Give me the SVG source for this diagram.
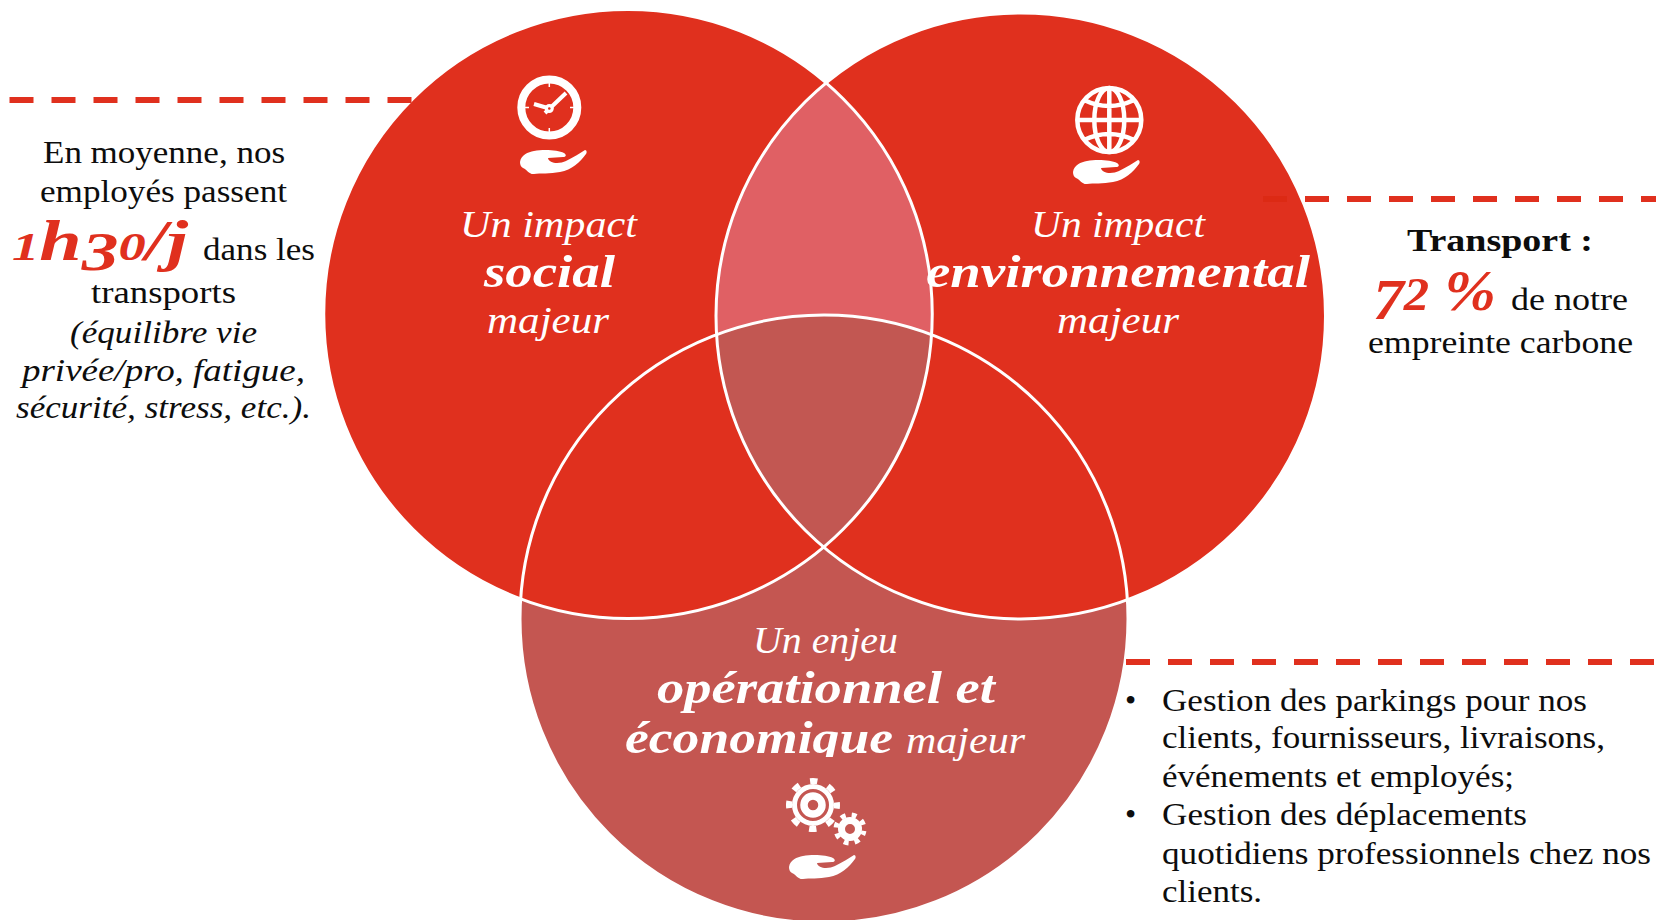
<svg xmlns="http://www.w3.org/2000/svg" width="1656" height="920" viewBox="0 0 1656 920">
<style>
text{font-family:"Liberation Serif",serif;font-size:32px;fill:#0d0d0d}
.i{font-style:italic}
.w{fill:#fff;font-size:37px;font-style:italic}
.wb{fill:#fff;font-size:47px;font-weight:bold;font-style:italic}
.r{fill:#e0301e;font-weight:bold;font-style:italic;font-size:56px}
.d{stroke:#e0301e;stroke-width:6;stroke-dasharray:24 18;fill:none}
.ring{fill:none;stroke:#fff;stroke-width:3}
</style>
<defs>
<clipPath id="cl"><ellipse cx="628" cy="314" rx="304.250" ry="304.500"/></clipPath>
<clipPath id="cr"><ellipse cx="1020.750" cy="316" rx="304.750" ry="303"/></clipPath>
<clipPath id="cb"><rect x="600" y="720" width="450" height="37"/></clipPath>
<path id="hand" fill="#fff" d="M0 12C1 5 8 2 14 1C24-1 38 0 44 3C47 5 46 7 43 7L28 8C29 14 40 14 46 11C54 7 60 3 65 0C67 0 67 3 66 4C60 12 52 20 40 22C30 24 20 23 14 24C10 25 6 19 3 18C1 17 0 15 0 12Z"/>
</defs>
<g id="node-social"><ellipse cx="628" cy="314" rx="304.250" ry="304.500" fill="#e0301e"/></g>
<g id="node-environnement"><ellipse cx="1020.750" cy="316" rx="304.750" ry="303" fill="#e0301e"/></g>
<g id="node-operationnel"><circle cx="824" cy="619" r="304" fill="#c45651"/></g>
<g id="overlaps">
<g clip-path="url(#cl)"><ellipse cx="1020.750" cy="316" rx="304.750" ry="303" fill="#e06064"/></g>
<g clip-path="url(#cl)"><circle cx="824" cy="619" r="304" fill="#e0301e"/></g>
<g clip-path="url(#cr)"><circle cx="824" cy="619" r="304" fill="#e0301e"/></g>
<g clip-path="url(#cl)"><g clip-path="url(#cr)"><circle cx="824" cy="619" r="304" fill="#c25752"/></g></g>
<ellipse class="ring" cx="628" cy="314" rx="304.250" ry="304.500"/>
<ellipse class="ring" cx="1020.750" cy="316" rx="304.750" ry="303"/>
<circle class="ring" cx="824" cy="619" r="304"/>
</g>
<g id="connectors">
<path class="d" d="M9.500 100H412"/>
<path class="d" style="stroke:#dc2a14" d="M1263 199H1287"/>
<path class="d" d="M1305 199H1656"/>
<path class="d" d="M1126 662H1656"/>
</g>
<g id="icon-clock">
<circle cx="549.300" cy="107.500" r="28" fill="none" stroke="#fff" stroke-width="8"/>
<path stroke="#fff" stroke-width="1.500" d="M549.300 83v4M549.300 128v4M525 107.500h4M570 107.500h4"/>
<path stroke="#fff" stroke-width="4" fill="none" d="M534 104L551 109M545 113L566 93"/>
<circle cx="549.300" cy="108.500" r="4.500" fill="#fff"/>
<circle cx="549.300" cy="108.500" r="1.300" fill="#e0301e"/>
<use href="#hand" x="520" y="150"/>
</g>
<g id="icon-globe" fill="none" stroke="#fff" stroke-width="4.500">
<circle cx="1109.300" cy="120" r="32"/>
<ellipse cx="1109.300" cy="120" rx="15" ry="32"/>
<path d="M1109.300 88V152M1077 120H1141M1084 100Q1109 112 1134 100M1084 140Q1109 128 1134 140"/>
<use href="#hand" x="1073" y="160" stroke="none"/>
</g>
<g id="icon-gears" fill="none" stroke="#fff">
<circle cx="813" cy="805" r="18.500" stroke-width="5"/>
<circle cx="813" cy="805" r="9" stroke-width="7.500"/>
<circle cx="813" cy="805" r="24" stroke-width="6" stroke-dasharray="7.500 11.350" stroke-dashoffset="3.750"/>
<circle cx="850" cy="829" r="8.500" stroke-width="7"/>
<circle cx="850" cy="829" r="14" stroke-width="5" stroke-dasharray="5 6" stroke-dashoffset="2.500" transform="rotate(15 850 829)"/>
<use href="#hand" x="789" y="855" stroke="none"/>
</g>
<g id="label-social" text-anchor="middle">
<text class="w" x="548.500" y="237" lengthAdjust="spacingAndGlyphs" textLength="177">Un impact</text>
<text class="wb" x="549.500" y="287" lengthAdjust="spacingAndGlyphs" textLength="131">social</text>
<text class="w" x="548" y="333" lengthAdjust="spacingAndGlyphs" textLength="122">majeur</text>
</g>
<g id="label-environnement" text-anchor="middle">
<text class="w" x="1118" y="237" lengthAdjust="spacingAndGlyphs" textLength="174">Un impact</text>
<text class="wb" x="1118" y="287" lengthAdjust="spacingAndGlyphs" textLength="384">environnemental</text>
<text class="w" x="1118" y="333" lengthAdjust="spacingAndGlyphs" textLength="122">majeur</text>
</g>
<g id="label-operationnel">
<text class="w" x="753" y="653" lengthAdjust="spacingAndGlyphs" textLength="145">Un enjeu</text>
<text class="wb" x="657" y="703" lengthAdjust="spacingAndGlyphs" textLength="338">opérationnel et</text>
<text class="wb" x="625" y="753" lengthAdjust="spacingAndGlyphs" textLength="268" clip-path="url(#cb)">économique</text>
<text class="w" x="906" y="753" lengthAdjust="spacingAndGlyphs" textLength="119">majeur</text>
</g>
<g id="note-left">
<text x="43" y="163" lengthAdjust="spacingAndGlyphs" textLength="242">En moyenne, nos</text>
<text x="40" y="202" lengthAdjust="spacingAndGlyphs" textLength="247">employés passent</text>
<text class="r" x="12" y="260" lengthAdjust="spacingAndGlyphs" textLength="176"><tspan font-size="40">1</tspan>h<tspan font-size="54" dy="10">3</tspan><tspan font-size="40" dy="-10">0</tspan>/j</text>
<text x="203" y="260" lengthAdjust="spacingAndGlyphs" textLength="112">dans les</text>
<text x="91" y="303" lengthAdjust="spacingAndGlyphs" textLength="145">transports</text>
<text class="i" x="70" y="343" lengthAdjust="spacingAndGlyphs" textLength="187">(équilibre vie</text>
<text class="i" x="22" y="381" lengthAdjust="spacingAndGlyphs" textLength="283">privée/pro, fatigue,</text>
<text class="i" x="16" y="418" lengthAdjust="spacingAndGlyphs" textLength="295">sécurité, stress, etc.).</text>
</g>
<g id="note-right">
<text font-weight="bold" x="1407" y="251" lengthAdjust="spacingAndGlyphs" textLength="186">Transport :</text>
<text class="r" x="1373" y="310" lengthAdjust="spacingAndGlyphs" textLength="123"><tspan dy="9">7</tspan><tspan font-size="46" dy="-9">2</tspan> %</text>
<text x="1511" y="310" lengthAdjust="spacingAndGlyphs" textLength="117">de notre</text>
<text x="1368" y="353" lengthAdjust="spacingAndGlyphs" textLength="265">empreinte carbone</text>
</g>
<g id="note-bottom">
<text x="1125" y="711">•</text>
<text x="1162" y="711" lengthAdjust="spacingAndGlyphs" textLength="425">Gestion des parkings pour nos</text>
<text x="1162" y="748" lengthAdjust="spacingAndGlyphs" textLength="443">clients, fournisseurs, livraisons,</text>
<text x="1162" y="787" lengthAdjust="spacingAndGlyphs" textLength="352">événements et employés;</text>
<text x="1125" y="825">•</text>
<text x="1162" y="825" lengthAdjust="spacingAndGlyphs" textLength="365">Gestion des déplacements</text>
<text x="1162" y="864" lengthAdjust="spacingAndGlyphs" textLength="489">quotidiens professionnels chez nos</text>
<text x="1162" y="902" lengthAdjust="spacingAndGlyphs" textLength="100">clients.</text>
</g>
</svg>
